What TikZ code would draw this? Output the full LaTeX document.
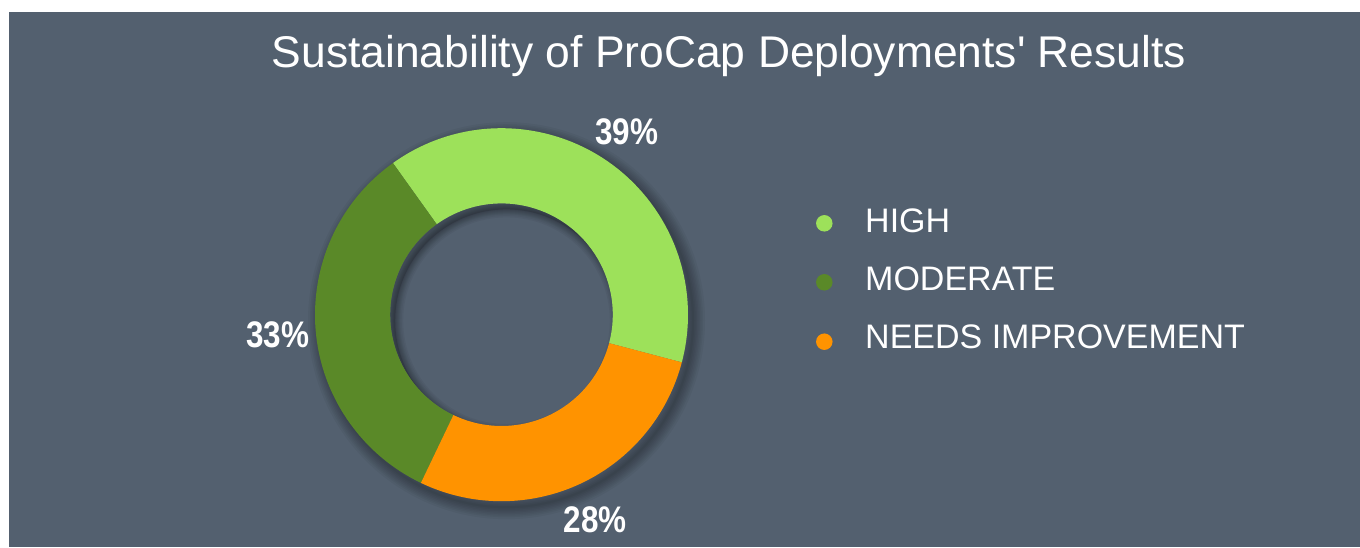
\documentclass[tikz,border=0pt]{standalone}
\usepackage{fontspec}
\setmainfont{Liberation Sans}
\newfontfamily\plainfont{Liberation Sans}
\usetikzlibrary{calc}
\definecolor{bgc}{RGB}{83,96,111}
\definecolor{highc}{RGB}{157,225,90}
\definecolor{modc}{RGB}{90,137,40}
\definecolor{needc}{RGB}{255,147,0}
\tikzset{
  pct/.style={text=white, inner sep=0pt, anchor=base, font=\bfseries\fontsize{37}{40}\selectfont},
  legtext/.style={text=white, inner sep=0pt, anchor=base west, font=\fontsize{34}{40}\selectfont},
  legdot/.style={circle, inner sep=0pt, minimum size=16.5pt},
}
\begin{document}
\begin{tikzpicture}[x=1pt,y=1pt]
\useasboundingbox (0,0) rectangle (1360,-547);
\fill[bgc] (9,-12) rectangle (1360,-547);
\def\R{186.5}
\def\r{111.3}
\coordinate (C) at (501.5,-314.7);
\coordinate (S) at (506.5,-320.7);
% outer drop shadow
\foreach \w in {2,5,8,11,14,17,20,24}{
  \draw[black, opacity=0.04, line width=\w pt] (S) circle[radius=\R];
}
% inner hole shadow
\begin{scope}
  \clip (C) circle[radius=\r];
  \foreach \w in {2,4,6,8,10,13,16}{
    \draw[black, opacity=0.045, line width=\w pt] (S) circle[radius=\r];
  }
  \fill[black, opacity=0.15, even odd rule] (C) circle[radius=\r+2] (S) circle[radius=\r];
\end{scope}
% slices
\fill[highc] ($(C)+(125.6:\R)$) arc[start angle=125.6, end angle=-14.8, radius=\R]
  -- ($(C)+(-14.8:\r)$) arc[start angle=-14.8, end angle=125.6, radius=\r] -- cycle;
\fill[modc] ($(C)+(125.6:\R)$) arc[start angle=125.6, end angle=244.4, radius=\R]
  -- ($(C)+(244.4:\r)$) arc[start angle=244.4, end angle=125.6, radius=\r] -- cycle;
\fill[needc] ($(C)+(244.4:\R)$) arc[start angle=244.4, end angle=345.2, radius=\R]
  -- ($(C)+(345.2:\r)$) arc[start angle=345.2, end angle=244.4, radius=\r] -- cycle;
% title
\node[text=white, inner sep=0pt, anchor=base, font=\plainfont\fontsize{44.4}{50}\selectfont] (title) at (729,-67.7) {Sustainability of ProCap Deployments' Results};
% percentages
\node[pct] (pHigh) at (626.5,-144) {\scalebox{0.85}[1]{39\%}};
\node[pct] (pMod) at (277.5,-347) {\scalebox{0.85}[1]{33\%}};
\node[pct] (pNeeds) at (595,-532) {\scalebox{0.85}[1]{28\%}};
% legend
\node[legdot, fill=highc] (dHigh) at (824.3,-223.3) {};
\node[legdot, fill=modc] (dMod) at (824.3,-282.3) {};
\node[legdot, fill=needc] (dNeeds) at (824.3,-341.7) {};
\node[legtext] (lHigh) at (865,-232.7) {HIGH};
\node[legtext] (lMod) at (865,-290.7) {MODERATE};
\node[legtext] (lNeeds) at (865,-348.3) {NEEDS IMPROVEMENT};
\end{tikzpicture}
\end{document}
